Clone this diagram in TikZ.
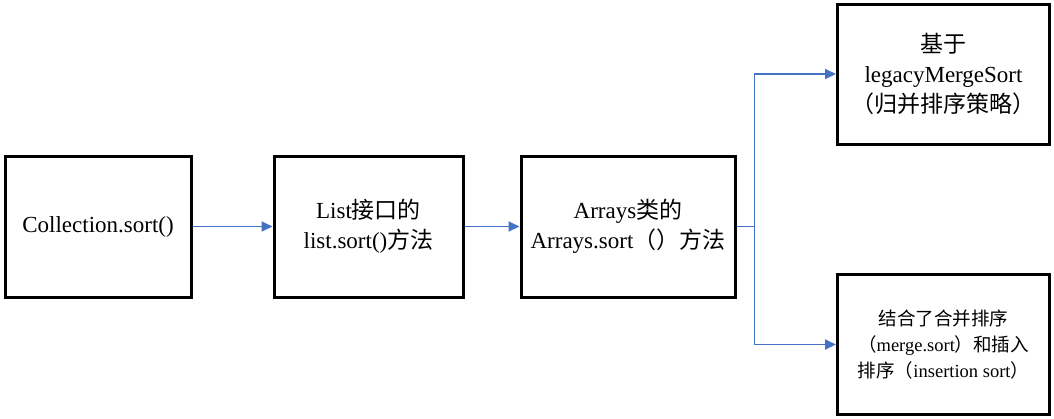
\documentclass[tikz,border=0pt]{standalone}
\usepackage{fontspec}
\setmainfont{Liberation Serif}
\newfontfamily\cjk{Noto Sans CJK SC}
\usetikzlibrary{arrows.meta,positioning}
\definecolor{flowblue}{HTML}{4472C4}
\newcommand{\zh}[1]{{\cjk #1}}
\tikzset{
  stepbox/.style={draw=black, line width=3pt, fill=white, align=center, inner sep=2pt, minimum height=141pt, font=\fontsize{23}{30}\selectfont},
  link/.style={-{Triangle[length=11pt, width=10pt]}, line width=1.8pt, draw=flowblue}
}
\begin{document}
\begin{tikzpicture}[x=1pt, y=-1pt]
  \useasboundingbox (0,0) rectangle (1054,418);
  \node[stepbox, minimum width=186pt] (coll) at (98,226.5) {Collection.sort()};
  \node[stepbox, minimum width=189pt, right=80pt of coll] (list) {List\zh{接口的}\\list.sort()\zh{方法}};
  \node[stepbox, minimum width=214pt, right=55pt of list] (arrays) {Arrays\zh{类的}\\Arrays.sort\zh{（）方法}};
  \node[stepbox, minimum width=212pt, minimum height=140pt] (legacy) at (943.5,74) {\zh{基于}\\legacyMergeSort\\\zh{（归并排序策略）}};
  \node[stepbox, minimum width=212pt, minimum height=140pt, font=\fontsize{18.5}{26}\selectfont] (timsort) at (943.5,344.5) {\zh{结合了合并排序}\\\zh{（}merge.sort\zh{）和插入}\\\zh{排序（}insertion sort\zh{）}};
  \coordinate[right=18pt of arrays.east] (split);
  \draw[link] (coll) -- (list);
  \draw[link] (list) -- (arrays);
  \draw[line width=1.8pt, draw=flowblue] (arrays.east) -- (split);
  \draw[link] (split) |- (legacy.west);
  \draw[link] (split) |- (timsort.west);
\end{tikzpicture}
\end{document}
